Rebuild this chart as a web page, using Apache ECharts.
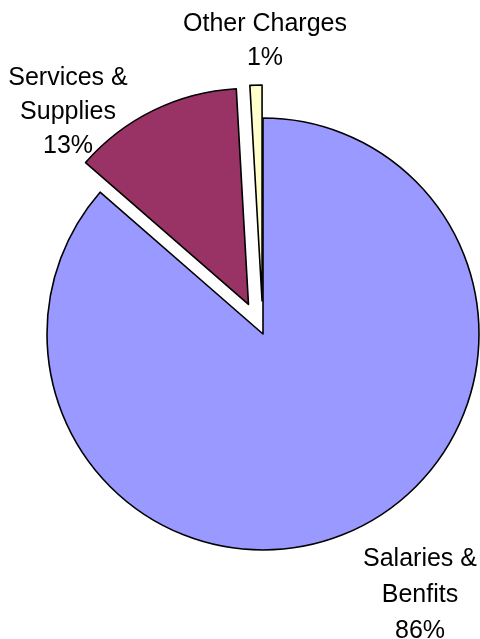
<!DOCTYPE html>
<html>
<head>
<meta charset="utf-8">
<script src="https://cdn.jsdelivr.net/npm/echarts@6/dist/echarts.min.js"></script>
<style>
  html, body { margin: 0; padding: 0; background: #fff; }
  #chart { width: 480px; height: 639px; }
</style>
</head>
<body>
<div id="chart"></div>
<script>
var categories = ['Salaries &\nBenfits', 'Services &\nSupplies', 'Other Charges'];
var values = [86.4, 12.7, 0.9];
var colors = ['#9999FF', '#993366', '#FFFFCC'];
var exploded = [false, true, true];

// top-centre of each label block
var labelSpots = [[420, 541], [68, 61], [265, 7]];

var total = values.reduce(function(a, b) { return a + b; }, 0);

var mychart = echarts.init(document.getElementById('chart'));

// pie's own outside labels get pushed around, so place them as plain text
var labels = categories.map(function(name, i) {
    return {
        type: 'text',
        x: labelSpots[i][0],
        y: labelSpots[i][1],
        silent: true,
        style: {
            text: name + '\n' + Math.round(values[i] / total * 100) + '%',
            fill: '#000',
            fontFamily: 'Liberation Sans, Arial, sans-serif',
            fontSize: 25,
            lineHeight: i === 0 ? 36 : 34,
            align: 'center',
            verticalAlign: 'top'
        }
    };
});

var option = {
    animation: false,
    graphic: labels,
    series: [{
        type: 'pie',
        center: [263, 334],
        radius: 216,
        startAngle: 90,
        clockwise: true,
        selectedMode: 'multiple',
        selectedOffset: 33,
        itemStyle: {
            borderColor: '#000',
            borderWidth: 1.6
        },
        emphasis: { disabled: true },
        select: {
            itemStyle: { borderColor: '#000', borderWidth: 1.6 }
        },
        label: { show: false },
        labelLine: { show: false },
        data: categories.map(function(name, i) {
            return {
                name: name,
                value: values[i],
                selected: exploded[i],
                itemStyle: { color: colors[i] }
            };
        })
    }]
};

mychart.setOption(option);
</script>
</body>
</html>
